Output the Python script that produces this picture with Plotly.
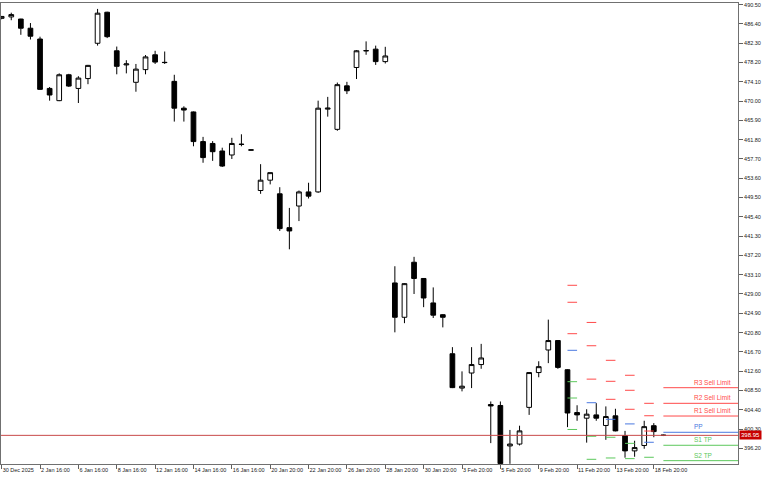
import plotly.graph_objects as go

# ---- data -------------------------------------------------------------
opens = [487.6, 487.9, 487.45, 485.5, 483.2, 472.7, 470.1, 475.6, 472.7, 474.8,
         482.3, 488.9, 480.7, 477.7, 474.0, 476.7, 479.85, 478.25, 474.2, 468.5,
         467.7, 461.4, 461.0, 459.4, 458.55, 460.85, 459.55, 451.0, 453.2, 450.3,
         443.1, 447.7, 450.7, 450.7, 468.3, 464.0, 473.25, 477.15, 480.75, 481.05,
         478.4, 431.35, 424.05, 435.75, 432.3, 427.1, 424.6, 416.3, 409.0, 412.2,
         414.0, 405.5, 405.3, 396.7, 397.1, 404.9, 412.3, 417.1, 419.1, 412.9,
         403.8, 402.6, 403.3, 401.05, 403.1, 398.9, 395.65, 396.8, 401.0, 399.0]
highs = [488.1, 488.8, 487.5, 486.6, 483.7, 473.0, 475.9, 475.8, 475.3, 477.7,
         489.6, 489.0, 481.6, 478.7, 477.9, 479.8, 480.7, 480.55, 475.6, 468.9,
         467.8, 462.4, 461.5, 460.1, 462.2, 462.95, 459.7, 456.6, 454.8, 451.7,
         447.3, 451.0, 452.65, 470.1, 470.9, 473.95, 474.1, 480.85, 482.7, 481.8,
         481.55, 434.9, 431.3, 436.9, 432.4, 430.4, 424.7, 417.7, 412.55, 417.7,
         418.4, 406.15, 406.15, 400.1, 401.0, 412.4, 414.7, 423.55, 419.2, 413.0,
         405.35, 404.5, 405.8, 405.1, 404.6, 399.9, 397.8, 402.05, 401.55, 399.1]
lows = [487.4, 487.2, 484.1, 483.1, 472.4, 470.1, 470.0, 473.0, 469.6, 473.6,
        481.8, 483.4, 475.7, 475.9, 472.0, 475.7, 477.9, 477.9, 465.65, 465.65,
        460.4, 456.9, 457.3, 456.0, 457.7, 460.4, 459.5, 450.3, 452.3, 442.4,
        438.5, 444.5, 449.3, 450.5, 466.7, 463.7, 471.5, 474.7, 479.85, 477.7,
        478.0, 420.85, 422.8, 429.0, 426.2, 423.9, 421.9, 409.0, 408.3, 409.0,
        413.1, 397.3, 392.9, 392.9, 396.8, 403.3, 411.3, 414.3, 413.1, 400.7,
        402.05, 397.4, 402.05, 398.0, 399.8, 394.2, 394.4, 396.1, 398.55, 398.8]
closes = [488.0, 488.4, 485.5, 483.8, 472.5, 471.3, 475.6, 473.2, 474.9, 477.6,
          488.7, 483.7, 477.4, 477.9, 476.8, 479.4, 478.3, 478.2, 468.5, 468.1,
          461.4, 458.0, 459.25, 456.2, 461.0, 460.8, 459.65, 453.2, 454.8, 442.9,
          442.4, 450.7, 449.8, 468.5, 468.5, 473.5, 472.2, 480.7, 480.7, 478.4,
          479.6, 424.05, 431.2, 432.3, 428.15, 424.5, 424.05, 409.1, 409.4, 414.0,
          415.4, 405.2, 392.95, 397.1, 399.9, 412.3, 413.55, 419.1, 413.4, 403.7,
          403.3, 403.45, 402.6, 402.95, 399.9, 395.65, 396.35, 400.8, 399.75, 398.95]

tick_bars = [0, 4, 8, 12, 16, 20, 24, 28, 32, 36, 40, 44, 48, 52, 56, 60, 64, 68]
tick_labels = ["30 Dec 2025", "2 Jan 16:00", "6 Jan 16:00", "8 Jan 16:00",
               "12 Jan 16:00", "14 Jan 16:00", "16 Jan 16:00", "20 Jan 20:00",
               "22 Jan 20:00", "26 Jan 20:00", "28 Jan 20:00", "30 Jan 20:00",
               "3 Feb 20:00", "5 Feb 20:00", "9 Feb 20:00", "11 Feb 20:00",
               "13 Feb 20:00", "18 Feb 20:00"]
price_ticks = [490.50, 486.40, 482.30, 478.20, 474.10, 470.00, 465.90, 461.80,
               457.70, 453.60, 449.50, 445.40, 441.30, 437.20, 433.10, 429.00,
               424.90, 420.80, 416.70, 412.60, 408.50, 404.40, 400.30, 396.20]

# daily pivot levels (start bar of each day, levels)
pivot_start = [59, 61, 63, 65, 67, 69]
R3 = [430.85, 422.95, 414.9, 411.72, 405.76, 409.08]
R2 = [427.24, 418.0, 410.44, 408.53, 403.12, 405.76]
R1 = [420.56, 410.9, 406.61, 404.49, 399.87, 403.06]
PP = [417.03, 405.89, 402.36, 401.38, 397.48, 399.6]
S1 = [410.36, 398.75, 398.54, 397.25, 394.29, 396.84]
S2 = [406.89, 393.86, 394.14, 394.0, None, 393.57]
S3 = [400.2, None, None, None, None, None]
level_names = ["R3 Sell Limit", "R2 Sell Limit", "R1 Sell Limit", "PP", "S1 TP", "S2 TP"]
current_price = 398.95

# ---- styling ----------------------------------------------------------
X_MIN, X_MAX = -0.07, 76.78
Y_MIN, Y_MAX = 392.86, 490.86
RED, BLUE, GREEN = "#FF4A4A", "#4A78E0", "#5CC85C"
FONT = "Liberation Sans"

bars = list(range(len(opens)))
fig = go.Figure()
fig.add_trace(go.Candlestick(
    x=bars, open=opens, high=highs, low=lows, close=closes,
    increasing=dict(line=dict(color="black", width=1), fillcolor="white"),
    decreasing=dict(line=dict(color="black", width=1), fillcolor="black"),
    whiskerwidth=0, showlegend=False, hoverinfo="skip"))


def seg_trace(levels, color):
    xs, ys = [], []
    for s, v in zip(pivot_start, levels):
        if v is None:
            continue
        end = X_MAX if s == pivot_start[-1] else s + 1
        xs += [s, end, None]
        ys += [v, v, None]
    return go.Scatter(x=xs, y=ys, mode="lines", line=dict(color=color, width=1),
                      showlegend=False, hoverinfo="skip")


for lv, col in [(R3, RED), (R2, RED), (R1, RED), (PP, BLUE), (S1, GREEN), (S2, GREEN), (S3, GREEN)]:
    fig.add_trace(seg_trace(lv, col))

# current price line
fig.add_shape(type="line", xref="paper", x0=0, x1=1, yref="y",
              y0=current_price, y1=current_price, line=dict(color="#C84848", width=1))
fig.add_annotation(xref="paper", x=1.0, y=current_price, xanchor="left", yanchor="middle",
                   text=f"{current_price:.2f}", showarrow=False,
                   font=dict(family=FONT, size=6, color="white"),
                   bgcolor="#C80000", borderpad=1, xshift=1)

# pivot labels
label_colors = [RED, RED, RED, BLUE, GREEN, GREEN]
for name, lv, col in zip(level_names, [R3, R2, R1, PP, S1, S2], label_colors):
    fig.add_annotation(x=72, y=lv[-1], xanchor="left", yanchor="bottom", text=name,
                       showarrow=False, font=dict(family=FONT, size=6.5, color=col),
                       yshift=0)

fig.update_layout(
    width=768, height=480,
    margin=dict(l=1, r=30, t=3, b=16),
    paper_bgcolor="white", plot_bgcolor="white",
    showlegend=False,
    xaxis=dict(range=[X_MIN, X_MAX], rangeslider=dict(visible=False),
               tickmode="array", tickvals=tick_bars, ticktext=tick_labels,
               ticks="outside", ticklen=4, tickcolor="#606060", tickangle=0,
               ticklabelposition="outside right",
               tickfont=dict(family=FONT, size=5.5, color="#202020"),
               showline=True, linecolor="#707070", linewidth=1, mirror=True,
               showgrid=False, zeroline=False),
    yaxis=dict(range=[Y_MIN, Y_MAX], side="right",
               tickmode="array", tickvals=price_ticks,
               ticktext=[f"{v:.2f}" for v in price_ticks],
               ticks="outside", ticklen=4, tickcolor="#606060",
               tickfont=dict(family=FONT, size=5.5, color="#202020"),
               showline=True, linecolor="#707070", linewidth=1, mirror=True,
               showgrid=False, zeroline=False),
)

fig.write_html("out.html", config={"displayModeBar": False},
               post_script="document.body.style.margin='0';document.body.style.padding='0';")
